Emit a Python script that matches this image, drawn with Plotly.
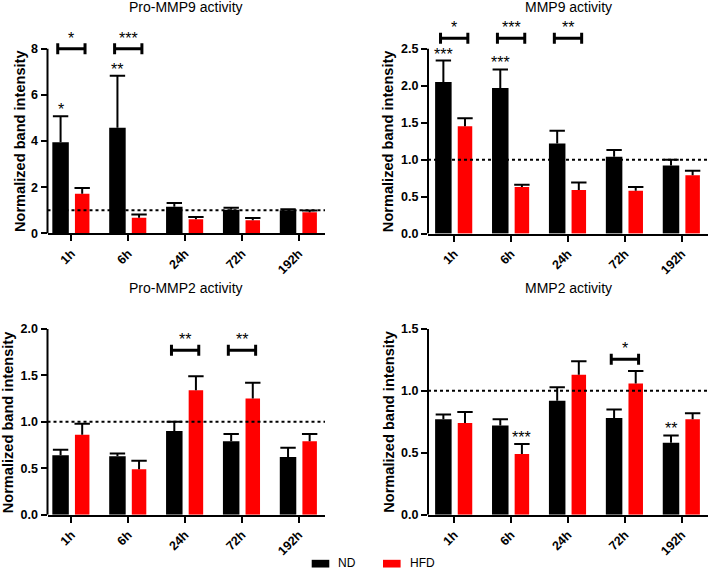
import plotly.graph_objects as go

# time points (x categories)
TIMES = ["1h", "6h", "24h", "72h", "192h"]
POS = list(range(len(TIMES)))
GROUPS = ["ND", "HFD"]

TITLES = ["Pro-MMP9 activity", "MMP9 activity", "Pro-MMP2 activity", "MMP2 activity"]
Y_LABEL = "Normalized band intensity"

# Pro-MMP9
PRO_MMP9_ND = [3.95, 4.58, 1.15, 1.03, 1.00]
PRO_MMP9_ND_SEM = [1.12, 2.25, 0.17, 0.08, 0.05]
PRO_MMP9_HFD = [1.72, 0.68, 0.61, 0.57, 0.92]
PRO_MMP9_HFD_SEM = [0.25, 0.14, 0.10, 0.10, 0.07]
PRO_MMP9_TICKS = [0, 2, 4, 6, 8]

# MMP9
MMP9_ND = [2.05, 1.97, 1.22, 1.04, 0.92]
MMP9_ND_SEM = [0.29, 0.25, 0.17, 0.09, 0.08]
MMP9_HFD = [1.45, 0.63, 0.59, 0.58, 0.79]
MMP9_HFD_SEM = [0.11, 0.03, 0.10, 0.05, 0.06]
MMP9_TICKS = [0, 0.5, 1.0, 1.5, 2.0, 2.5]

# Pro-MMP2
PRO_MMP2_ND = [0.64, 0.63, 0.90, 0.79, 0.62]
PRO_MMP2_ND_SEM = [0.06, 0.03, 0.10, 0.08, 0.10]
PRO_MMP2_HFD = [0.86, 0.49, 1.34, 1.25, 0.79]
PRO_MMP2_HFD_SEM = [0.12, 0.09, 0.15, 0.17, 0.08]
PRO_MMP2_TICKS = [0, 0.5, 1.0, 1.5, 2.0]

# MMP2
MMP2_ND = [0.77, 0.72, 0.92, 0.78, 0.58]
MMP2_ND_SEM = [0.04, 0.05, 0.11, 0.07, 0.06]
MMP2_HFD = [0.74, 0.49, 1.13, 1.06, 0.77]
MMP2_HFD_SEM = [0.09, 0.08, 0.11, 0.10, 0.05]
MMP2_TICKS = [0, 0.5, 1.0, 1.5]

# significance: ND vs HFD brackets (time index, stars) and bracket height
PRO_MMP9_PAIRS = [(0, "*"), (1, "***")]
MMP9_PAIRS = [(0, "*"), (1, "***"), (2, "**")]
PRO_MMP2_PAIRS = [(2, "**"), (3, "**")]
MMP2_PAIRS = [(3, "*")]
PAIR_Y = [8.0, 2.64, 1.77, 1.255]

# significance vs baseline above single bars (group, time index, stars)
PRO_MMP9_MARKS = [("ND", 0, "*"), ("ND", 1, "**")]
MMP9_MARKS = [("ND", 0, "***"), ("ND", 1, "***")]
PRO_MMP2_MARKS = []
MMP2_MARKS = [("HFD", 1, "***"), ("ND", 4, "**")]

BASELINE = 1.0

panels = [
    dict(nd=PRO_MMP9_ND, nd_sem=PRO_MMP9_ND_SEM, hfd=PRO_MMP9_HFD, hfd_sem=PRO_MMP9_HFD_SEM,
         ticks=PRO_MMP9_TICKS, fmt=".0f", pairs=PRO_MMP9_PAIRS, marks=PRO_MMP9_MARKS),
    dict(nd=MMP9_ND, nd_sem=MMP9_ND_SEM, hfd=MMP9_HFD, hfd_sem=MMP9_HFD_SEM,
         ticks=MMP9_TICKS, fmt=".1f", pairs=MMP9_PAIRS, marks=MMP9_MARKS),
    dict(nd=PRO_MMP2_ND, nd_sem=PRO_MMP2_ND_SEM, hfd=PRO_MMP2_HFD, hfd_sem=PRO_MMP2_HFD_SEM,
         ticks=PRO_MMP2_TICKS, fmt=".1f", pairs=PRO_MMP2_PAIRS, marks=PRO_MMP2_MARKS),
    dict(nd=MMP2_ND, nd_sem=MMP2_ND_SEM, hfd=MMP2_HFD, hfd_sem=MMP2_HFD_SEM,
         ticks=MMP2_TICKS, fmt=".1f", pairs=MMP2_PAIRS, marks=MMP2_MARKS),
]

# geometry in pixels: left, right, bottom (y=0), top (y=max), x range
W, H = 709, 576
GEOM = [
    (47.5, 325, 236.3, 49.3, -0.42, 4.46),
    (428, 708, 236.5, 49.3, -0.46, 4.46),
    (47.5, 325, 521, 333, -0.42, 4.46),
    (428, 708, 521, 333, -0.46, 4.46),
]
TITLE_Y = [7.5, 7.5, 292, 292]
YTITLE_X = [20, 388, 7.5, 389]

FONT = "Liberation Sans, Arial, sans-serif"
COLORS = {"ND": "black", "HFD": "#ff0000"}
BAR_W = {"ND": 0.29, "HFD": 0.255}
BAR_OFF = {"ND": -0.335, "HFD": 0.0625}
HEAD = 1.15      # extra room above axis for brackets
BR = 0.24        # half span of brackets


def fx(px):
    return px / W


def fy(py):
    return 1 - py / H


def center(g, i):
    return i + BAR_OFF[g] + BAR_W[g] / 2


tickfont = dict(family=FONT, size=12.5, color="black", weight="bold")
starfont = dict(family=FONT, size=16, color="black")
fig = go.Figure()
shapes, annotations = [], []
axes = {}

for k, p in enumerate(panels):
    sfx = "" if k == 0 else str(k + 1)
    xa, ya = "x" + sfx, "y" + sfx
    left, right, bottom, top, xlo, xhi = GEOM[k]
    ymax = p["ticks"][-1]
    dom_top = bottom - (bottom - top) * HEAD

    axes["xaxis" + sfx] = dict(
        domain=[fx(left), fx(right)], range=[xlo, xhi], anchor=ya,
        tickvals=POS, ticktext=TIMES, tickangle=-45, tickfont=tickfont,
        showline=True, linecolor="black", linewidth=2,
        ticks="outside", ticklen=6, tickwidth=2, tickcolor="black",
        showgrid=False, zeroline=False, fixedrange=True,
    )
    axes["yaxis" + sfx] = dict(
        domain=[fy(bottom), fy(dom_top)], range=[0, ymax * HEAD], anchor=xa,
        tickvals=p["ticks"], tickformat=p["fmt"], tickfont=tickfont,
        showline=False, ticks="outside", ticklen=6, tickwidth=2, tickcolor="black",
        showgrid=False, zeroline=False, fixedrange=True,
    )

    for g, vals, sem in [("ND", p["nd"], p["nd_sem"]), ("HFD", p["hfd"], p["hfd_sem"])]:
        fig.add_trace(go.Bar(
            x=POS, y=vals, width=BAR_W[g], offset=BAR_OFF[g], name=g,
            marker=dict(color=COLORS[g], line_width=0),
            error_y=dict(type="data", array=sem, arrayminus=[0] * len(sem), symmetric=False,
                         width=0, thickness=2, color="black"),
            xaxis=xa, yaxis=ya, showlegend=False,
        ))
        fig.add_trace(go.Scatter(
            x=[center(g, i) for i in POS], y=[v + s for v, s in zip(vals, sem)],
            mode="markers", hoverinfo="skip", showlegend=False,
            marker=dict(symbol="line-ew", size=11, line=dict(width=2, color="black")),
            xaxis=xa, yaxis=ya,
        ))

    # y axis line only up to the top tick
    shapes.append(dict(type="line", xref=xa + " domain", yref=ya, x0=0, x1=0, y0=0, y1=ymax,
                       line=dict(color="black", width=2)))
    # dotted baseline
    shapes.append(dict(type="line", xref=xa + " domain", yref=ya, x0=0, x1=1,
                       y0=BASELINE, y1=BASELINE, line=dict(color="black", width=2, dash="3px,3px")))

    # brackets ND vs HFD
    by = PAIR_Y[k]
    for i, txt in p["pairs"]:
        shapes.append(dict(type="line", xref=xa, yref=ya, x0=i - BR, x1=i + BR, y0=by, y1=by,
                           line=dict(color="black", width=3)))
        for xe in (i - BR, i + BR):
            shapes.append(dict(type="line", xref=xa, yref=ya, x0=xe, x1=xe,
                               ysizemode="pixel", yanchor=by, y0=-5.5, y1=5.5,
                               line=dict(color="black", width=3)))
        annotations.append(dict(x=i, y=by, xref=xa, yref=ya, text=txt, showarrow=False,
                                yanchor="bottom", yshift=0, font=starfont))

    vals = {"ND": p["nd"], "HFD": p["hfd"]}
    sems = {"ND": p["nd_sem"], "HFD": p["hfd_sem"]}
    for g, i, txt in p["marks"]:
        annotations.append(dict(x=center(g, i), y=vals[g][i] + sems[g][i], xref=xa, yref=ya,
                                text=txt, showarrow=False, yanchor="bottom", yshift=-4,
                                font=starfont))

    # panel title
    annotations.append(dict(x=0.5, y=fy(TITLE_Y[k]), xref=xa + " domain", yref="paper",
                            text=TITLES[k], showarrow=False, yanchor="middle",
                            font=dict(family=FONT, size=14, color="black")))
    # y axis title
    annotations.append(dict(x=fx(YTITLE_X[k]), y=fy((bottom + top) / 2), xref="paper", yref="paper",
                            text=Y_LABEL, textangle=-90, showarrow=False,
                            xanchor="center", yanchor="middle",
                            font=dict(family=FONT, size=14.6, color="black", weight="bold")))

# legend drawn below the panels
LEG_X = [311.7, 383]
for g, lx in zip(GROUPS, LEG_X):
    shapes.append(dict(type="rect", xref="paper", yref="paper", x0=fx(lx), x1=fx(lx + 17.6),
                       y0=fy(574.5), y1=fy(566.7), fillcolor=COLORS[g], line_width=0))
    annotations.append(dict(x=fx(lx + 24.5), y=fy(570.3), xref="paper", yref="paper", text=g,
                            showarrow=False, xanchor="left", yanchor="middle",
                            font=dict(family=FONT, size=12, color="black")))

fig.update_layout(
    width=W, height=H,
    margin=dict(l=0, r=0, t=0, b=0),
    plot_bgcolor="white", paper_bgcolor="white",
    font=dict(family=FONT, color="black"),
    showlegend=False,
    shapes=shapes, annotations=annotations,
    **axes,
)

# page body margin would shift the fixed-size figure
fig.write_html("out.html", config={"displayModeBar": False},
               post_script="document.body.style.margin='0';document.body.style.overflow='hidden';")
